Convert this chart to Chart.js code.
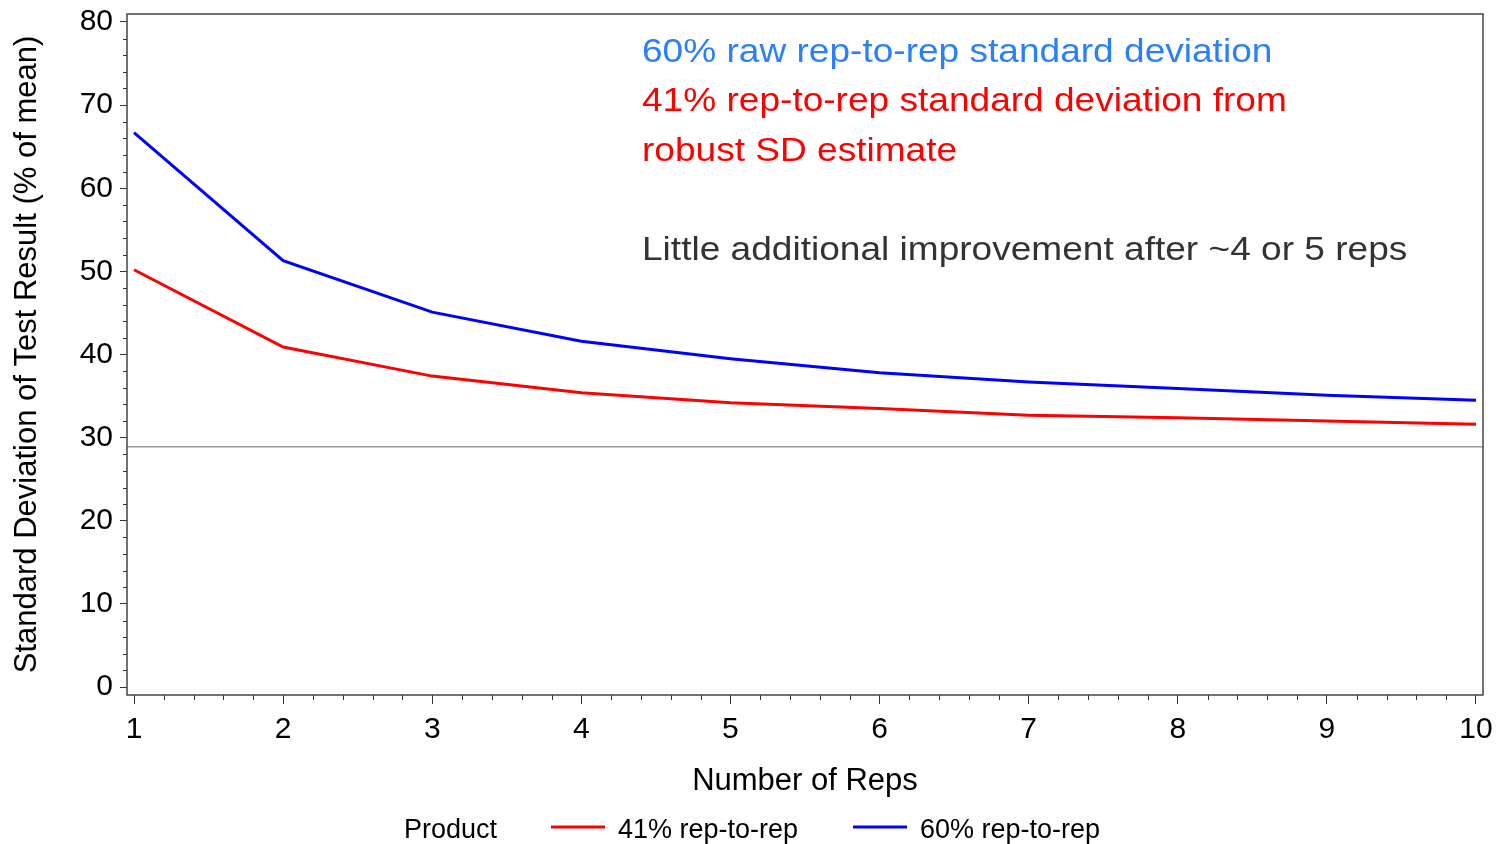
<!DOCTYPE html>
<html>
<head>
<meta charset="utf-8">
<script src="https://cdn.jsdelivr.net/npm/chart.js@4"></script>
<style>
  html, body { margin: 0; padding: 0; background: #fff; }
  #wrap { width: 1496px; height: 844px; }
</style>
</head>
<body>
<div id="wrap"><canvas id="chart" width="1496" height="844"></canvas></div>
<script>
// values
const reps = [1, 2, 3, 4, 5, 6, 7, 8, 9, 10];
const sd41 = [50.2, 40.9, 37.4, 35.4, 34.2, 33.5, 32.7, 32.4, 32.0, 31.6];
const sd60 = [66.7, 51.3, 45.1, 41.6, 39.5, 37.8, 36.7, 35.9, 35.1, 34.5];
const refLine = 28.9;
const seriesNames = ['41% rep-to-rep', '60% rep-to-rep'];
const seriesColors = ['#ff0000', '#0000ff'];
const notes = [
    { text: '60% raw rep-to-rep standard deviation', color: '#2a7fff', y: 62 },
    { text: '41% rep-to-rep standard deviation from', color: '#ff0000', y: 111 },
    { text: 'robust SD estimate', color: '#ff0000', y: 161 },
    { text: 'Little additional improvement after ~4 or 5 reps', color: '#333333', y: 260 }
];

const FONT = "'Liberation Sans', Arial, sans-serif";

function toPoints(xs, ys) {
    return xs.map((x, i) => ({ x: x, y: ys[i] }));
}

const extras = {
    id: 'extras',
    beforeDatasetsDraw(chart) {
        const ctx = chart.ctx;
        const a = chart.chartArea;
        const xs = chart.scales.x;
        const ys = chart.scales.y;
        ctx.save();

        // reference line
        const ry = ys.getPixelForValue(refLine);
        ctx.strokeStyle = '#9a9a9a';
        ctx.lineWidth = 1.5;
        ctx.beginPath();
        ctx.moveTo(a.left, ry);
        ctx.lineTo(a.right, ry);
        ctx.stroke();

        // minor ticks
        ctx.strokeStyle = '#333';
        ctx.lineWidth = 1;
        ctx.beginPath();
        for (let i = 1; i < 45; i++) {
            if (i % 5 === 0) continue;
            const px = Math.round(xs.getPixelForValue(1 + i * 0.2)) + 0.5;
            ctx.moveTo(px, a.bottom);
            ctx.lineTo(px, a.bottom + 5);
        }
        for (let v = 2; v < 80; v += 2) {
            if (v % 10 === 0) continue;
            const py = Math.round(ys.getPixelForValue(v)) + 0.5;
            ctx.moveTo(a.left, py);
            ctx.lineTo(a.left - 4, py);
        }
        ctx.stroke();

        // frame
        ctx.strokeStyle = '#444';
        ctx.lineWidth = 1.5;
        ctx.strokeRect(a.left, a.top, a.right - a.left, a.bottom - a.top);
        ctx.restore();
    },
    afterDraw(chart) {
        const ctx = chart.ctx;
        ctx.save();
        ctx.textBaseline = 'alphabetic';
        ctx.textAlign = 'left';

        // annotations, slightly wide type as in the reference
        ctx.font = '34px ' + FONT;
        notes.forEach(n => {
            ctx.save();
            ctx.translate(642, n.y);
            ctx.scale(1.09, 1);
            ctx.fillStyle = n.color;
            ctx.fillText(n.text, 0, 0);
            ctx.restore();
        });

        // legend
        ctx.font = '27px ' + FONT;
        ctx.fillStyle = '#000';
        ctx.fillText('Product', 404, 838);
        const starts = [551, 853];
        seriesNames.forEach((name, i) => {
            ctx.strokeStyle = seriesColors[i];
            ctx.lineWidth = 3;
            ctx.beginPath();
            ctx.moveTo(starts[i], 827);
            ctx.lineTo(starts[i] + 54, 827);
            ctx.stroke();
            ctx.fillStyle = '#000';
            ctx.fillText(name, starts[i] + 67, 838);
        });
        ctx.restore();
    }
};

new Chart(document.getElementById('chart').getContext('2d'), {
    type: 'line',
    data: {
        datasets: [
            {
                label: seriesNames[0],
                data: toPoints(reps, sd41),
                borderColor: seriesColors[0],
                borderWidth: 3,
                pointRadius: 0,
                tension: 0
            },
            {
                label: seriesNames[1],
                data: toPoints(reps, sd60),
                borderColor: seriesColors[1],
                borderWidth: 3,
                pointRadius: 0,
                tension: 0
            }
        ]
    },
    options: {
        responsive: false,
        animation: false,
        devicePixelRatio: 1,
        layout: { padding: { top: 14, right: 13, bottom: 44, left: 0 } },
        plugins: {
            legend: { display: false },
            tooltip: { enabled: false }
        },
        scales: {
            x: {
                type: 'linear',
                min: 0.953,
                max: 10.047,
                afterFit: s => {
                    s.height = 105;
                    s.paddingLeft = 0;
                    s.paddingRight = 0;
                },
                ticks: {
                    stepSize: 1,
                    includeBounds: false,
                    color: '#000',
                    padding: 8,
                    font: { family: FONT, size: 30 }
                },
                grid: { drawOnChartArea: false, tickLength: 9, color: '#333' },
                border: { display: false },
                title: {
                    display: true,
                    text: 'Number of Reps',
                    color: '#000',
                    font: { family: FONT, size: 31 },
                    padding: { top: 0, bottom: 0 }
                }
            },
            y: {
                min: -0.96,
                max: 80.96,
                afterFit: s => {
                    s.width = 127;
                    s.paddingTop = 0;
                    s.paddingBottom = 0;
                },
                ticks: {
                    stepSize: 10,
                    includeBounds: false,
                    color: '#000',
                    padding: 7,
                    font: { family: FONT, size: 30 }
                },
                grid: { drawOnChartArea: false, tickLength: 7, color: '#333' },
                border: { display: false },
                title: {
                    display: true,
                    text: 'Standard Deviation of Test Result (% of mean)',
                    color: '#000',
                    font: { family: FONT, size: 31 },
                    padding: { top: 9, bottom: 0 }
                }
            }
        }
    },
    plugins: [extras]
});
</script>
</body>
</html>
